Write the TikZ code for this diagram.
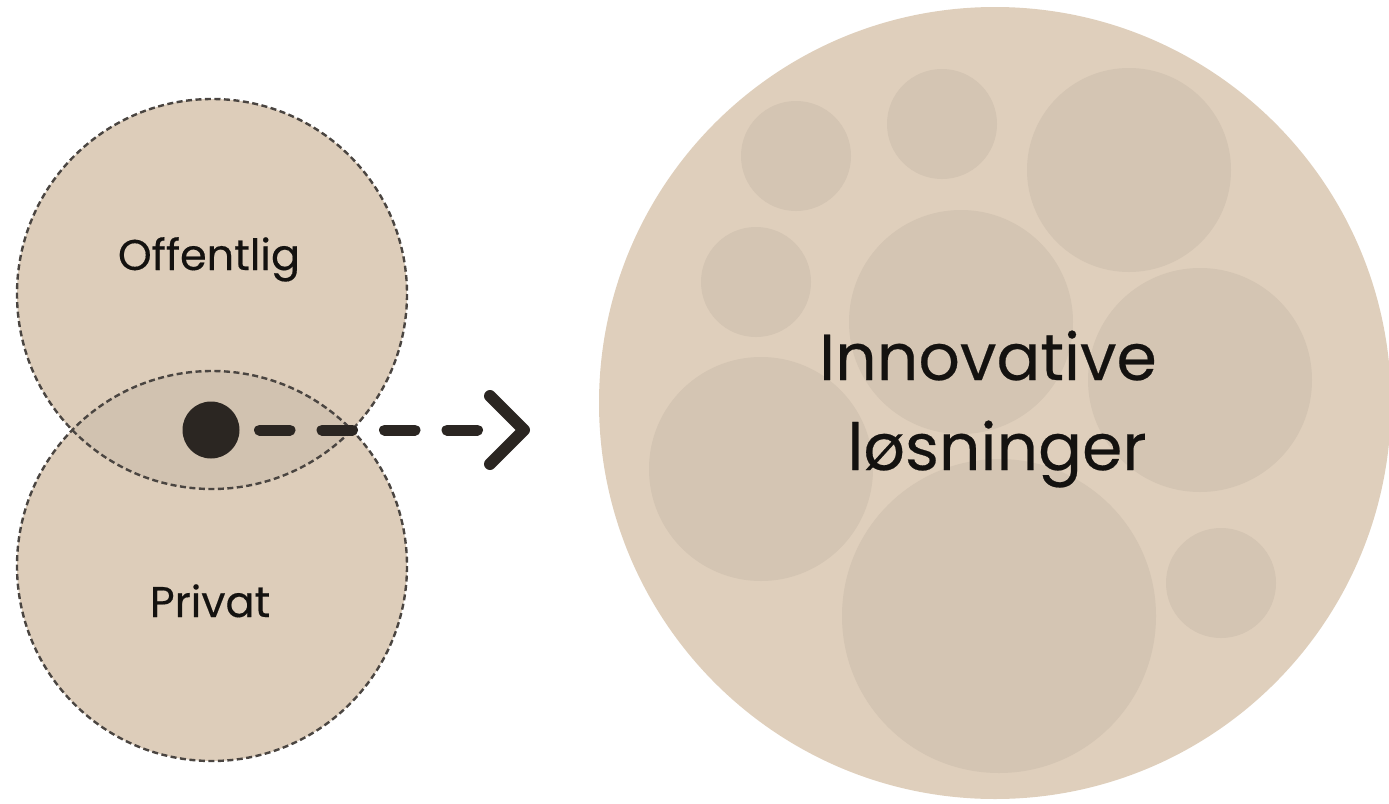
\documentclass[tikz,border=0pt]{standalone}
\usepackage{fontspec}
\setmainfont{Poppins}
\newfontfamily\popf{Poppins}[FakeBold=0.35]
\definecolor{beige}{HTML}{DFCFBC}
\definecolor{beigeL}{HTML}{DDCDBA}
\definecolor{inner}{HTML}{D4C5B3}
\definecolor{lens}{HTML}{D1C2B0}
\definecolor{ink}{HTML}{2B2622}
\definecolor{txt}{HTML}{141210}
\definecolor{rim}{HTML}{4A4541}
\begin{document}
\begin{tikzpicture}[x=1pt,y=-1pt,
  sector/.style={circle, inner sep=0pt, fill=beigeL},
  rimline/.style={rim, line width=2.4pt, dash pattern=on 6pt off 3.5pt},
  bubble/.style={circle, inner sep=0pt, fill=inner},
  lbl/.style={font=\popf\fontsize{43}{50}\selectfont, text=txt, inner sep=0pt},
  big/.style={font=\popf\fontsize{65}{90}\selectfont, text=txt, align=center, inner sep=0pt}]
\useasboundingbox (0,0) rectangle (1389,803);
% left overlapping circles
\node[sector, minimum size=390pt] (pub) at (212,294) {};
\node[sector, minimum size=390pt] (priv) at (212,566) {};
\begin{scope}
  \clip (212,294) circle (195);
  \fill[lens] (212,566) circle (195);
\end{scope}
\draw[rimline] (pub.center) circle (195);
\draw[rimline] (priv.center) circle (195);
\node[lbl, anchor=base] (toff) at (209,270) {Offentlig};
\node[lbl, anchor=base] (tpriv) at (210,617) {Privat};
% dot and arrow
\node[circle, fill=ink, inner sep=0pt, minimum size=57pt] (dot) at (211,430) {};
\coordinate (a0) at (259.5,430);
\coordinate (a1) at (478,430);
\coordinate (tip) at (524,430);
\coordinate (armU) at (490,396);
\coordinate (armD) at (490,464);
\draw[ink, line width=11pt, line cap=round, dash pattern=on 30.5pt off 32pt] (a0) -- (a1);
\draw[ink, line width=12pt, line cap=round, line join=round] (armU) -- (tip) -- (armD);
% big circle
\node[circle, inner sep=0pt, fill=beige, minimum size=792pt] (sol) at (995,403) {};
\node[bubble, minimum size=110pt] (b1) at (796,156) {};
\node[bubble, minimum size=110pt] (b2) at (942,124) {};
\node[bubble, minimum size=204pt] (b3) at (1129,170) {};
\node[bubble, minimum size=110pt] (b4) at (756,282) {};
\node[bubble, minimum size=224pt] (b5) at (961,322) {};
\node[bubble, minimum size=224pt] (b6) at (1200,380) {};
\node[bubble, minimum size=224pt] (b7) at (761,469) {};
\node[bubble, minimum size=314pt] (b8) at (999,616) {};
\node[bubble, minimum size=110pt] (b9) at (1221,583) {};
\node[big, anchor=base] (t1) at (988,380) {Innovative};
\node[big, anchor=base] (t2) at (997,470) {løsninger};
\end{tikzpicture}
\end{document}
